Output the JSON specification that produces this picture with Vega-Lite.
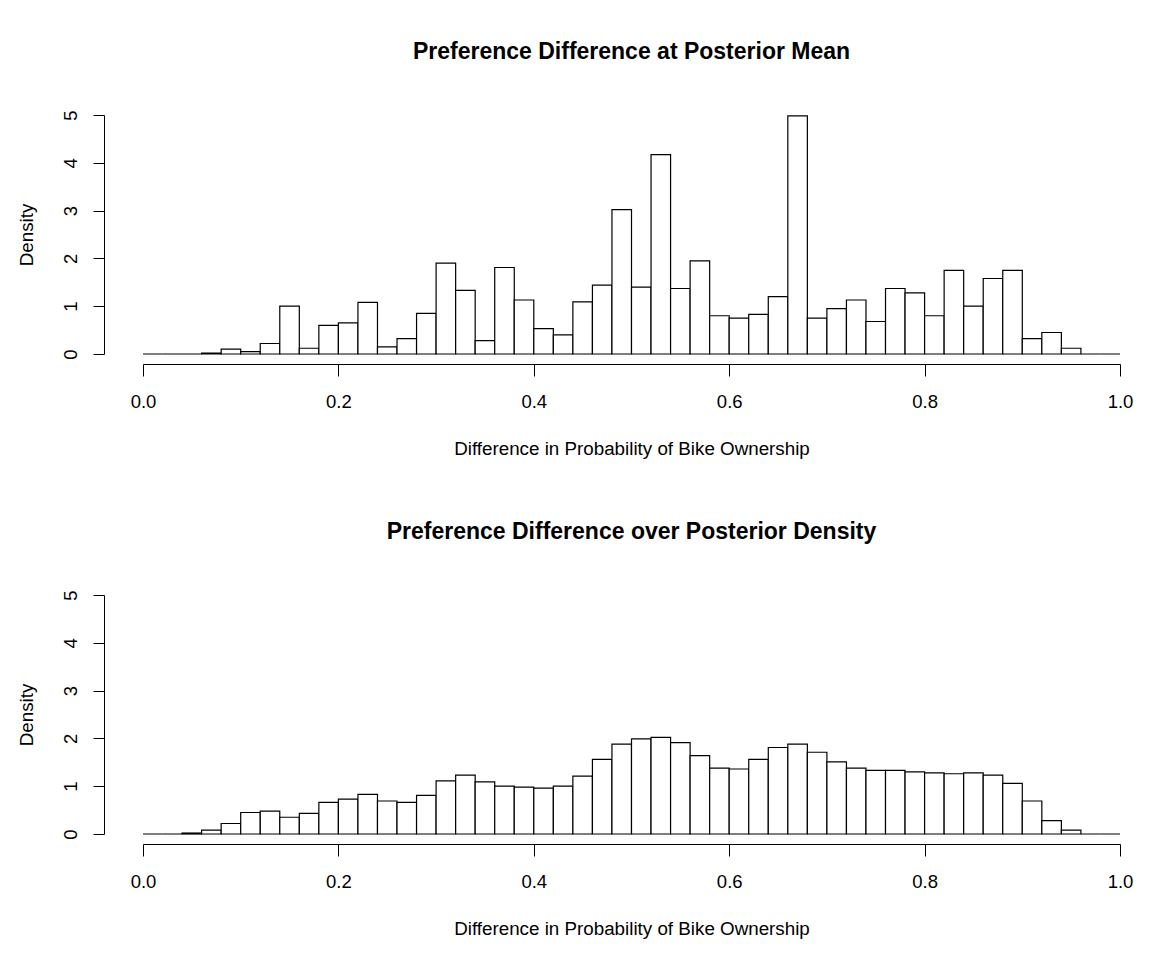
{
  "$schema": "https://vega.github.io/schema/vega-lite/v6.json",
  "background": "white",
  "padding": {"left": 17, "top": 40, "right": 15, "bottom": 10},
  "spacing": 62,
  "datasets": {
    "mean": [
      {"lo": 0.00, "hi": 0.02, "density": 0},
      {"lo": 0.02, "hi": 0.04, "density": 0},
      {"lo": 0.04, "hi": 0.06, "density": 0},
      {"lo": 0.06, "hi": 0.08, "density": 0.02},
      {"lo": 0.08, "hi": 0.10, "density": 0.10},
      {"lo": 0.10, "hi": 0.12, "density": 0.05},
      {"lo": 0.12, "hi": 0.14, "density": 0.22},
      {"lo": 0.14, "hi": 0.16, "density": 1.00},
      {"lo": 0.16, "hi": 0.18, "density": 0.12},
      {"lo": 0.18, "hi": 0.20, "density": 0.60},
      {"lo": 0.20, "hi": 0.22, "density": 0.65},
      {"lo": 0.22, "hi": 0.24, "density": 1.08},
      {"lo": 0.24, "hi": 0.26, "density": 0.15},
      {"lo": 0.26, "hi": 0.28, "density": 0.32},
      {"lo": 0.28, "hi": 0.30, "density": 0.85},
      {"lo": 0.30, "hi": 0.32, "density": 1.90},
      {"lo": 0.32, "hi": 0.34, "density": 1.33},
      {"lo": 0.34, "hi": 0.36, "density": 0.28},
      {"lo": 0.36, "hi": 0.38, "density": 1.81},
      {"lo": 0.38, "hi": 0.40, "density": 1.13},
      {"lo": 0.40, "hi": 0.42, "density": 0.53},
      {"lo": 0.42, "hi": 0.44, "density": 0.40},
      {"lo": 0.44, "hi": 0.46, "density": 1.09},
      {"lo": 0.46, "hi": 0.48, "density": 1.44},
      {"lo": 0.48, "hi": 0.50, "density": 3.02},
      {"lo": 0.50, "hi": 0.52, "density": 1.40},
      {"lo": 0.52, "hi": 0.54, "density": 4.17},
      {"lo": 0.54, "hi": 0.56, "density": 1.37},
      {"lo": 0.56, "hi": 0.58, "density": 1.95},
      {"lo": 0.58, "hi": 0.60, "density": 0.80},
      {"lo": 0.60, "hi": 0.62, "density": 0.75},
      {"lo": 0.62, "hi": 0.64, "density": 0.83},
      {"lo": 0.64, "hi": 0.66, "density": 1.20},
      {"lo": 0.66, "hi": 0.68, "density": 4.98},
      {"lo": 0.68, "hi": 0.70, "density": 0.75},
      {"lo": 0.70, "hi": 0.72, "density": 0.95},
      {"lo": 0.72, "hi": 0.74, "density": 1.13},
      {"lo": 0.74, "hi": 0.76, "density": 0.68},
      {"lo": 0.76, "hi": 0.78, "density": 1.37},
      {"lo": 0.78, "hi": 0.80, "density": 1.28},
      {"lo": 0.80, "hi": 0.82, "density": 0.80},
      {"lo": 0.82, "hi": 0.84, "density": 1.75},
      {"lo": 0.84, "hi": 0.86, "density": 1.00},
      {"lo": 0.86, "hi": 0.88, "density": 1.58},
      {"lo": 0.88, "hi": 0.90, "density": 1.75},
      {"lo": 0.90, "hi": 0.92, "density": 0.32},
      {"lo": 0.92, "hi": 0.94, "density": 0.45},
      {"lo": 0.94, "hi": 0.96, "density": 0.12},
      {"lo": 0.96, "hi": 0.98, "density": 0},
      {"lo": 0.98, "hi": 1.00, "density": 0}
    ],
    "posterior": [
      {"lo": 0.00, "hi": 0.02, "density": 0},
      {"lo": 0.02, "hi": 0.04, "density": 0},
      {"lo": 0.04, "hi": 0.06, "density": 0.02},
      {"lo": 0.06, "hi": 0.08, "density": 0.08},
      {"lo": 0.08, "hi": 0.10, "density": 0.22},
      {"lo": 0.10, "hi": 0.12, "density": 0.45},
      {"lo": 0.12, "hi": 0.14, "density": 0.48},
      {"lo": 0.14, "hi": 0.16, "density": 0.35},
      {"lo": 0.16, "hi": 0.18, "density": 0.43},
      {"lo": 0.18, "hi": 0.20, "density": 0.66},
      {"lo": 0.20, "hi": 0.22, "density": 0.73},
      {"lo": 0.22, "hi": 0.24, "density": 0.83},
      {"lo": 0.24, "hi": 0.26, "density": 0.69},
      {"lo": 0.26, "hi": 0.28, "density": 0.66},
      {"lo": 0.28, "hi": 0.30, "density": 0.81},
      {"lo": 0.30, "hi": 0.32, "density": 1.11},
      {"lo": 0.32, "hi": 0.34, "density": 1.23},
      {"lo": 0.34, "hi": 0.36, "density": 1.09},
      {"lo": 0.36, "hi": 0.38, "density": 1.00},
      {"lo": 0.38, "hi": 0.40, "density": 0.98},
      {"lo": 0.40, "hi": 0.42, "density": 0.96},
      {"lo": 0.42, "hi": 0.44, "density": 1.00},
      {"lo": 0.44, "hi": 0.46, "density": 1.21},
      {"lo": 0.46, "hi": 0.48, "density": 1.56},
      {"lo": 0.48, "hi": 0.50, "density": 1.88},
      {"lo": 0.50, "hi": 0.52, "density": 1.99},
      {"lo": 0.52, "hi": 0.54, "density": 2.02},
      {"lo": 0.54, "hi": 0.56, "density": 1.91},
      {"lo": 0.56, "hi": 0.58, "density": 1.64},
      {"lo": 0.58, "hi": 0.60, "density": 1.38},
      {"lo": 0.60, "hi": 0.62, "density": 1.36},
      {"lo": 0.62, "hi": 0.64, "density": 1.56},
      {"lo": 0.64, "hi": 0.66, "density": 1.81},
      {"lo": 0.66, "hi": 0.68, "density": 1.88},
      {"lo": 0.68, "hi": 0.70, "density": 1.71},
      {"lo": 0.70, "hi": 0.72, "density": 1.51},
      {"lo": 0.72, "hi": 0.74, "density": 1.38},
      {"lo": 0.74, "hi": 0.76, "density": 1.33},
      {"lo": 0.76, "hi": 0.78, "density": 1.33},
      {"lo": 0.78, "hi": 0.80, "density": 1.30},
      {"lo": 0.80, "hi": 0.82, "density": 1.28},
      {"lo": 0.82, "hi": 0.84, "density": 1.26},
      {"lo": 0.84, "hi": 0.86, "density": 1.28},
      {"lo": 0.86, "hi": 0.88, "density": 1.23},
      {"lo": 0.88, "hi": 0.90, "density": 1.06},
      {"lo": 0.90, "hi": 0.92, "density": 0.69},
      {"lo": 0.92, "hi": 0.94, "density": 0.28},
      {"lo": 0.94, "hi": 0.96, "density": 0.08},
      {"lo": 0.96, "hi": 0.98, "density": 0},
      {"lo": 0.98, "hi": 1.00, "density": 0}
    ]
  },
  "config": {
    "font": "Liberation Sans",
    "view": {"stroke": null},
    "axis": {
      "grid": false,
      "domainColor": "black",
      "tickColor": "black",
      "labelColor": "black",
      "titleColor": "black",
      "labelFont": "Liberation Sans",
      "titleFont": "Liberation Sans",
      "labelFontSize": 18.5,
      "titleFontSize": 18.8,
      "titleFontWeight": "normal",
      "domainWidth": 1,
      "tickWidth": 1,
      "labelFlush": false,
      "labelOverlap": false
    },
    "title": {"font": "Liberation Sans", "fontSize": 23, "fontWeight": "bold", "color": "black", "anchor": "middle"}
  },
  "vconcat": [
    {
      "data": {"name": "mean"},
      "title": {"text": "Preference Difference at Posterior Mean", "baseline": "alphabetic", "offset": 28},
      "width": 977,
      "height": 239,
      "mark": {"type": "rect", "fill": "white", "stroke": "black", "strokeWidth": 1.2},
      "encoding": {
        "x": {"field": "lo", "type": "quantitative", "scale": {"domain": [0, 1]},
          "axis": {"title": "Difference in Probability of Bike Ownership", "values": [0, 0.2, 0.4, 0.6, 0.8, 1], "format": ".1f", "offset": 10, "tickSize": 12, "labelPadding": 31, "labelBaseline": "alphabetic", "titleBaseline": "alphabetic", "titleY": 90}},
        "x2": {"field": "hi"},
        "y": {"field": "density", "type": "quantitative", "scale": {"domain": [0, 5]},
          "axis": {"title": "Density", "values": [0, 1, 2, 3, 4, 5], "offset": 39, "tickSize": 11, "labelAngle": -90, "labelAlign": "center", "labelBaseline": "alphabetic", "labelPadding": 17, "titleAngle": -90, "titleBaseline": "alphabetic", "titleX": -72}},
        "y2": {"datum": 0}
      }
    },
    {
      "data": {"name": "posterior"},
      "title": {"text": "Preference Difference over Posterior Density", "baseline": "alphabetic", "offset": 28},
      "width": 977,
      "height": 239,
      "mark": {"type": "rect", "fill": "white", "stroke": "black", "strokeWidth": 1.2},
      "encoding": {
        "x": {"field": "lo", "type": "quantitative", "scale": {"domain": [0, 1]},
          "axis": {"title": "Difference in Probability of Bike Ownership", "values": [0, 0.2, 0.4, 0.6, 0.8, 1], "format": ".1f", "offset": 10, "tickSize": 12, "labelPadding": 31, "labelBaseline": "alphabetic", "titleBaseline": "alphabetic", "titleY": 90}},
        "x2": {"field": "hi"},
        "y": {"field": "density", "type": "quantitative", "scale": {"domain": [0, 5]},
          "axis": {"title": "Density", "values": [0, 1, 2, 3, 4, 5], "offset": 39, "tickSize": 11, "labelAngle": -90, "labelAlign": "center", "labelBaseline": "alphabetic", "labelPadding": 17, "titleAngle": -90, "titleBaseline": "alphabetic", "titleX": -72}},
        "y2": {"datum": 0}
      }
    }
  ]
}
